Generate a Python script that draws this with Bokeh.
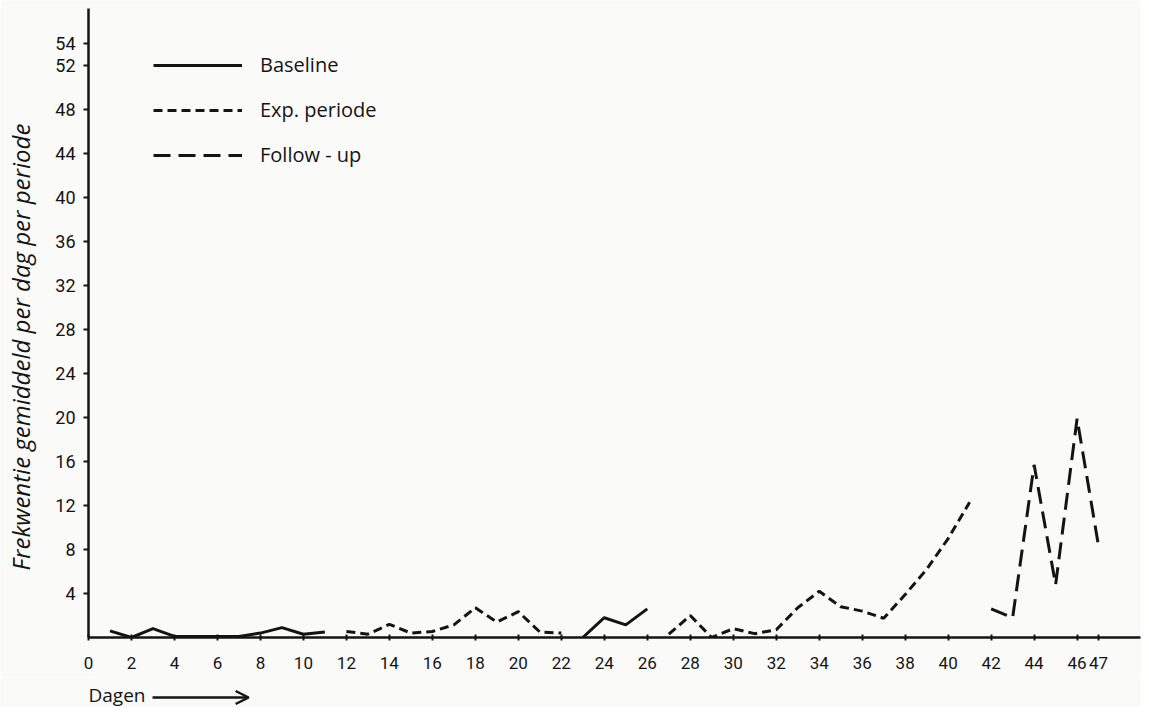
from bokeh.plotting import figure
from bokeh.layouts import column
from bokeh.models import Range1d, FixedTicker, Label, Arrow, OpenHead, Legend, LegendItem
from bokeh.embed import file_html
from bokeh.resources import INLINE

# ---- data ----
base1_days = [1, 2, 3, 4, 5, 6, 7, 8, 9, 10, 11]
base1_vals = [0.6, 0.0, 0.8, 0.1, 0.1, 0.1, 0.1, 0.4, 0.9, 0.3, 0.5]

exp1_days = [12, 13, 14, 15, 16, 17, 18, 19, 20, 21, 22]
exp1_vals = [0.55, 0.3, 1.2, 0.4, 0.55, 1.15, 2.7, 1.4, 2.35, 0.5, 0.4]

base2_days = [23, 24, 25, 26]
base2_vals = [0.0, 1.8, 1.15, 2.6]

exp2_days = [27, 28, 29, 30, 31, 32, 33, 34, 35, 36, 37, 38, 39, 40, 41]
exp2_vals = [0.3, 2.0, 0.0, 0.8, 0.35, 0.7, 2.7, 4.2, 2.8, 2.4, 1.75, 3.9, 6.2, 9.0, 12.3]

follow_days = [42, 43, 44, 45, 46, 47]
follow_vals = [2.6, 1.8, 15.7, 4.8, 19.9, 8.3]

x_ticks = [0, 2, 4, 6, 8, 10, 12, 14, 16, 18, 20, 22, 24, 26, 28, 30, 32, 34, 36, 38, 40, 42, 44, 46, 47]
y_ticks = [4, 8, 12, 16, 20, 24, 28, 32, 36, 40, 44, 48, 52, 54]

series_labels = ["Baseline", "Exp. periode", "Follow - up"]
y_title = "Frekwentie gemiddeld per dag per periode"
x_title = "Dagen"

# ---- styling ----
INK = "#141414"
BG = "#fafaf8"
NUM = "Roboto"
SANS = "Open Sans"

p = figure(width=1141, height=677, output_backend="svg", toolbar_location=None,
           x_range=Range1d(0, 48.95), y_range=Range1d(0, 57.2),
           min_border_left=88, min_border_right=1, min_border_top=8, min_border_bottom=40)
p.background_fill_color = BG
p.border_fill_color = BG
p.outline_line_color = None
p.grid.visible = False

for ax in (p.xaxis[0], p.yaxis[0]):
    ax.axis_line_color = INK
    ax.axis_line_width = 2.5
    ax.major_tick_line_color = INK
    ax.major_tick_line_width = 2
    ax.minor_tick_line_color = None
    ax.major_label_text_font = NUM
    ax.major_label_text_color = INK

p.xaxis.ticker = FixedTicker(ticks=x_ticks)
p.xaxis.major_tick_in = 3
p.xaxis.major_tick_out = 3
p.xaxis.major_label_standoff = 16
p.xaxis.major_label_text_font_size = "17px"

p.yaxis.ticker = FixedTicker(ticks=y_ticks)
p.yaxis.major_tick_in = 0
p.yaxis.major_tick_out = 5
p.yaxis.major_label_standoff = 8
p.yaxis.major_label_text_font_size = "18px"
p.yaxis.axis_label = y_title + "\u2003\u2003"
p.yaxis.axis_label_text_font = SANS
p.yaxis.axis_label_text_font_style = "italic"
p.yaxis.axis_label_text_font_size = "24px"
p.yaxis.axis_label_text_color = INK
p.yaxis.axis_label_standoff = 15

lw = 3
r_b1 = p.line(base1_days, base1_vals, line_color=INK, line_width=lw)
r_e1 = p.line(exp1_days, exp1_vals, line_color=INK, line_width=lw, line_dash="9 5")
r_b2 = p.line(base2_days, base2_vals, line_color=INK, line_width=lw)
r_e2 = p.line(exp2_days, exp2_vals, line_color=INK, line_width=lw, line_dash="9 5")
r_f = p.line(follow_days, follow_vals, line_color=INK, line_width=lw, line_dash="17 8")

legend = Legend(items=[LegendItem(label=series_labels[0], renderers=[r_b1]),
                       LegendItem(label=series_labels[1], renderers=[r_e1]),
                       LegendItem(label=series_labels[2], renderers=[r_f])],
                location=(65, 469), glyph_width=89, glyph_height=20, label_height=20,
                spacing=18, padding=0, margin=0, label_standoff=18,
                border_line_color=None, background_fill_alpha=0,
                label_text_font=SANS, label_text_font_size="20px",
                label_text_color=INK)
p.add_layout(legend)

# bottom strip with "Dagen ---->" (frame aligned with the chart above)
q = figure(width=1141, height=30, output_backend="svg", toolbar_location=None,
           x_range=p.x_range, y_range=Range1d(0, 30),
           x_axis_type=None, y_axis_type=None,
           min_border_left=88, min_border_right=1, min_border_top=0, min_border_bottom=0)
q.background_fill_color = BG
q.border_fill_color = BG
q.outline_line_color = None
q.grid.visible = False
q.add_layout(Label(x=0, y=13, text=x_title, text_align="left", text_baseline="alphabetic",
                   text_font=SANS, text_font_size="19px", text_color=INK))
q.add_layout(Arrow(x_start=2.98, y_start=10, x_end=7.45, y_end=10,
                   line_color=INK, line_width=2.5,
                   end=OpenHead(size=13, line_color=INK, line_width=2.5)))

layout = column(p, q, spacing=0)
open("out.html", "w").write(file_html(layout, INLINE))
